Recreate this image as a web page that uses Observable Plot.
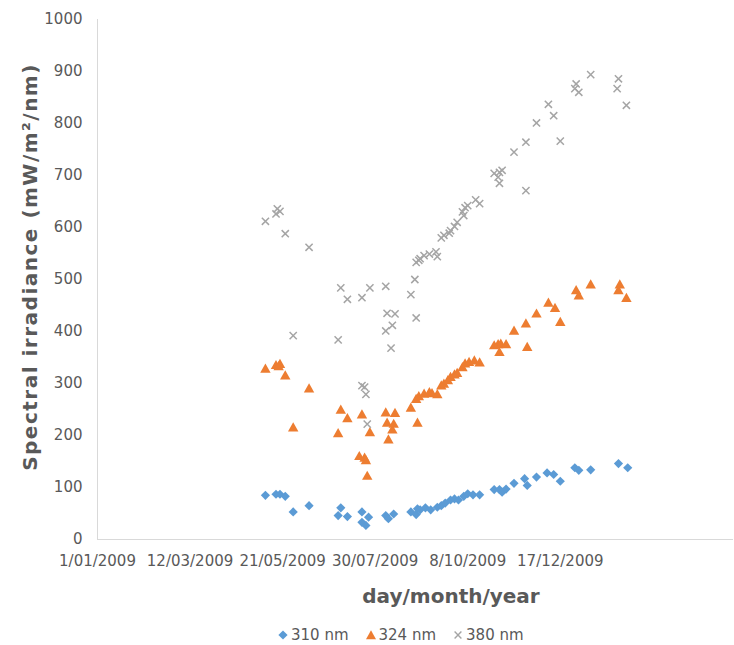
<!DOCTYPE html>
<html>
<head>
<meta charset="utf-8">
<script src="https://cdn.jsdelivr.net/npm/d3@7"></script>
<script src="https://cdn.jsdelivr.net/npm/@observablehq/plot@0.6"></script>
<style>
  body { margin: 0; background: #fff; font-family: "DejaVu Sans", sans-serif; }
  #wrap { width: 734px; height: 645px; overflow: hidden; }
  #legend { height: 33px; display: flex; padding-left: 278px; box-sizing: border-box; padding-top: 13px; align-items: flex-start; }
  .item { display: flex; align-items: center; margin-right: 17px; font-size: 15px; color: #595959; line-height: 20px; }
  .item svg { margin-right: 3px; }
</style>
</head>
<body>
<div id="wrap"></div>
<script>
// ---- data (days since 1 Jan 2009, irradiance in mW/m²/nm) ----
const days310 = [127,135,138,142,148,160,182,184,189,200,200,203,205,218,220,224,237,241,242,244,248,252,257,260,263,267,270,273,277,280,284,289,300,304,306,309,315,323,325,332,340,345,350,361,364,373,394,401];
const vals310 = [85,87,87,83,53,65,46,61,44,53,33,27,43,46,40,49,53,48,59,57,61,57,62,65,70,76,78,76,83,88,86,86,96,96,91,97,108,117,104,120,128,125,112,138,133,134,146,138];

const days324 = [127,135,137,138,142,148,160,182,184,189,198,200,202,203,204,206,218,219,220,223,224,225,237,241,242,243,247,251,253,257,260,262,265,267,270,272,276,278,281,285,289,300,303,304,305,309,315,324,325,332,341,346,350,362,364,373,394,395,400];
const vals324 = [328,335,333,337,315,215,290,204,249,233,160,240,157,152,122,206,244,224,192,211,222,243,253,270,224,275,280,283,281,279,296,299,306,312,317,320,331,338,341,344,340,373,375,360,376,375,401,415,370,434,455,445,418,479,469,490,479,490,464];

const days380 = [127,135,136,138,142,148,160,182,184,189,200,200,202,203,204,206,218,218,219,222,223,225,237,240,241,241,243,244,247,251,256,257,260,262,266,267,270,272,276,277,278,280,286,289,300,303,304,304,306,315,324,324,332,341,345,350,361,362,364,373,393,394,400];
const vals380 = [612,626,636,631,588,392,562,384,484,462,465,296,293,279,222,484,487,401,435,368,412,434,471,500,426,533,537,540,546,549,553,544,580,585,589,594,602,610,630,623,638,642,653,646,704,697,706,685,710,745,671,764,801,837,815,766,867,876,860,894,867,886,835];

const seriesNames = ["310 nm", "324 nm", "380 nm"];
const seriesColors = ["#5B9BD5", "#ED7D31", "#A5A5A5"];

const tickDates = ["2009-01-01","2009-03-12","2009-05-21","2009-07-30","2009-10-08","2009-12-17"];
const tickLabels = ["1/01/2009","12/03/2009","21/05/2009","30/07/2009","8/10/2009","17/12/2009"];
const yTicks = [0,100,200,300,400,500,600,700,800,900,1000];
const xStart = "2009-01-01";
const xEndDays = 481;

// ---- build ----
const toDate = d => new Date(Date.UTC(2009, 0, 1 + d));
const mk = (days, vals) => days.map((d, i) => ({date: toDate(d), value: vals[i]}));
const d310 = mk(days310, vals310), d324 = mk(days324, vals324), d380 = mk(days380, vals380);

const diamondSymbol = {draw(ctx) { const h = 4.6; ctx.moveTo(0,-h); ctx.lineTo(h,0); ctx.lineTo(0,h); ctx.lineTo(-h,0); ctx.closePath(); }};
const triangleSymbol = {draw(ctx) { ctx.moveTo(0,-5.4); ctx.lineTo(5.2,3.8); ctx.lineTo(-5.2,3.8); ctx.closePath(); }};
const timesSymbol = {draw(ctx) { const a = 3.6; ctx.moveTo(-a,-a); ctx.lineTo(a,a); ctx.moveTo(a,-a); ctx.lineTo(-a,a); }};

const x0 = new Date(xStart);
const x1 = toDate(xEndDays);

const svg = Plot.plot({
  width: 734,
  height: 612,
  marginLeft: 97,
  marginRight: 1,
  marginTop: 19,
  marginBottom: 73,
  style: {fontFamily: "DejaVu Sans", fontSize: "15px", color: "#595959", background: "#fff", overflow: "visible"},
  x: {type: "utc", domain: [x0, x1]},
  y: {domain: [0, 1000]},
  marks: [
    Plot.ruleY([0], {stroke: "#D9D9D9", strokeWidth: 1}),
    Plot.ruleX([x0], {stroke: "#D9D9D9", strokeWidth: 1}),
    Plot.axisY({ticks: yTicks, tickFormat: d => String(d), tickSize: 0, tickPadding: 15, label: null, fontSize: 15, fill: "#595959"}),
    Plot.axisX({ticks: tickDates.map(d => new Date(d)), tickFormat: (d, i) => tickLabels[i], tickSize: 0, tickPadding: 16, label: null, fontSize: 15, fill: "#595959"}),
    Plot.dot(d310, {x: "date", y: "value", symbol: diamondSymbol, fill: seriesColors[0], stroke: "none", r: 4}),
    Plot.dot(d324, {x: "date", y: "value", symbol: triangleSymbol, fill: seriesColors[1], stroke: "none", r: 4}),
    Plot.dot(d380, {x: "date", y: "value", symbol: timesSymbol, fill: "none", stroke: seriesColors[2], strokeWidth: 1.5, r: 4})
  ]
});

const s = d3.select(svg);
s.append("text")
  .attr("transform", "translate(30,267) rotate(-90)")
  .attr("text-anchor", "middle").attr("dy", "0.35em")
  .attr("font-family", "DejaVu Sans").attr("font-weight", "bold").attr("font-size", 20)
  .attr("letter-spacing", "1.5px")
  .attr("fill", "#595959")
  .text("Spectral irradiance (mW/m²/nm)");
s.append("text")
  .attr("x", 451).attr("y", 596)
  .attr("text-anchor", "middle").attr("dy", "0.35em")
  .attr("font-family", "DejaVu Sans").attr("font-weight", "bold").attr("font-size", 20)
  .attr("fill", "#595959")
  .text("day/month/year");

const wrap = document.getElementById("wrap");
wrap.appendChild(svg);

// legend
const legend = document.createElement("div");
legend.id = "legend";
const paths = [
  `<path d="M5,0.4L9.6,5L5,9.6L0.4,5Z" fill="${seriesColors[0]}"/>`,
  `<path d="M5,0.2L10,9.2L0,9.2Z" fill="${seriesColors[1]}"/>`,
  `<path d="M1.6,1.6L8.4,8.4M8.4,1.6L1.6,8.4" stroke="${seriesColors[2]}" stroke-width="1.4" fill="none"/>`
];
seriesNames.forEach((name, i) => {
  const it = document.createElement("div");
  it.className = "item";
  it.innerHTML = `<svg width="10" height="10" viewBox="0 0 10 10">${paths[i]}</svg><span>${name}</span>`;
  legend.appendChild(it);
});
wrap.appendChild(legend);
</script>
</body>
</html>
